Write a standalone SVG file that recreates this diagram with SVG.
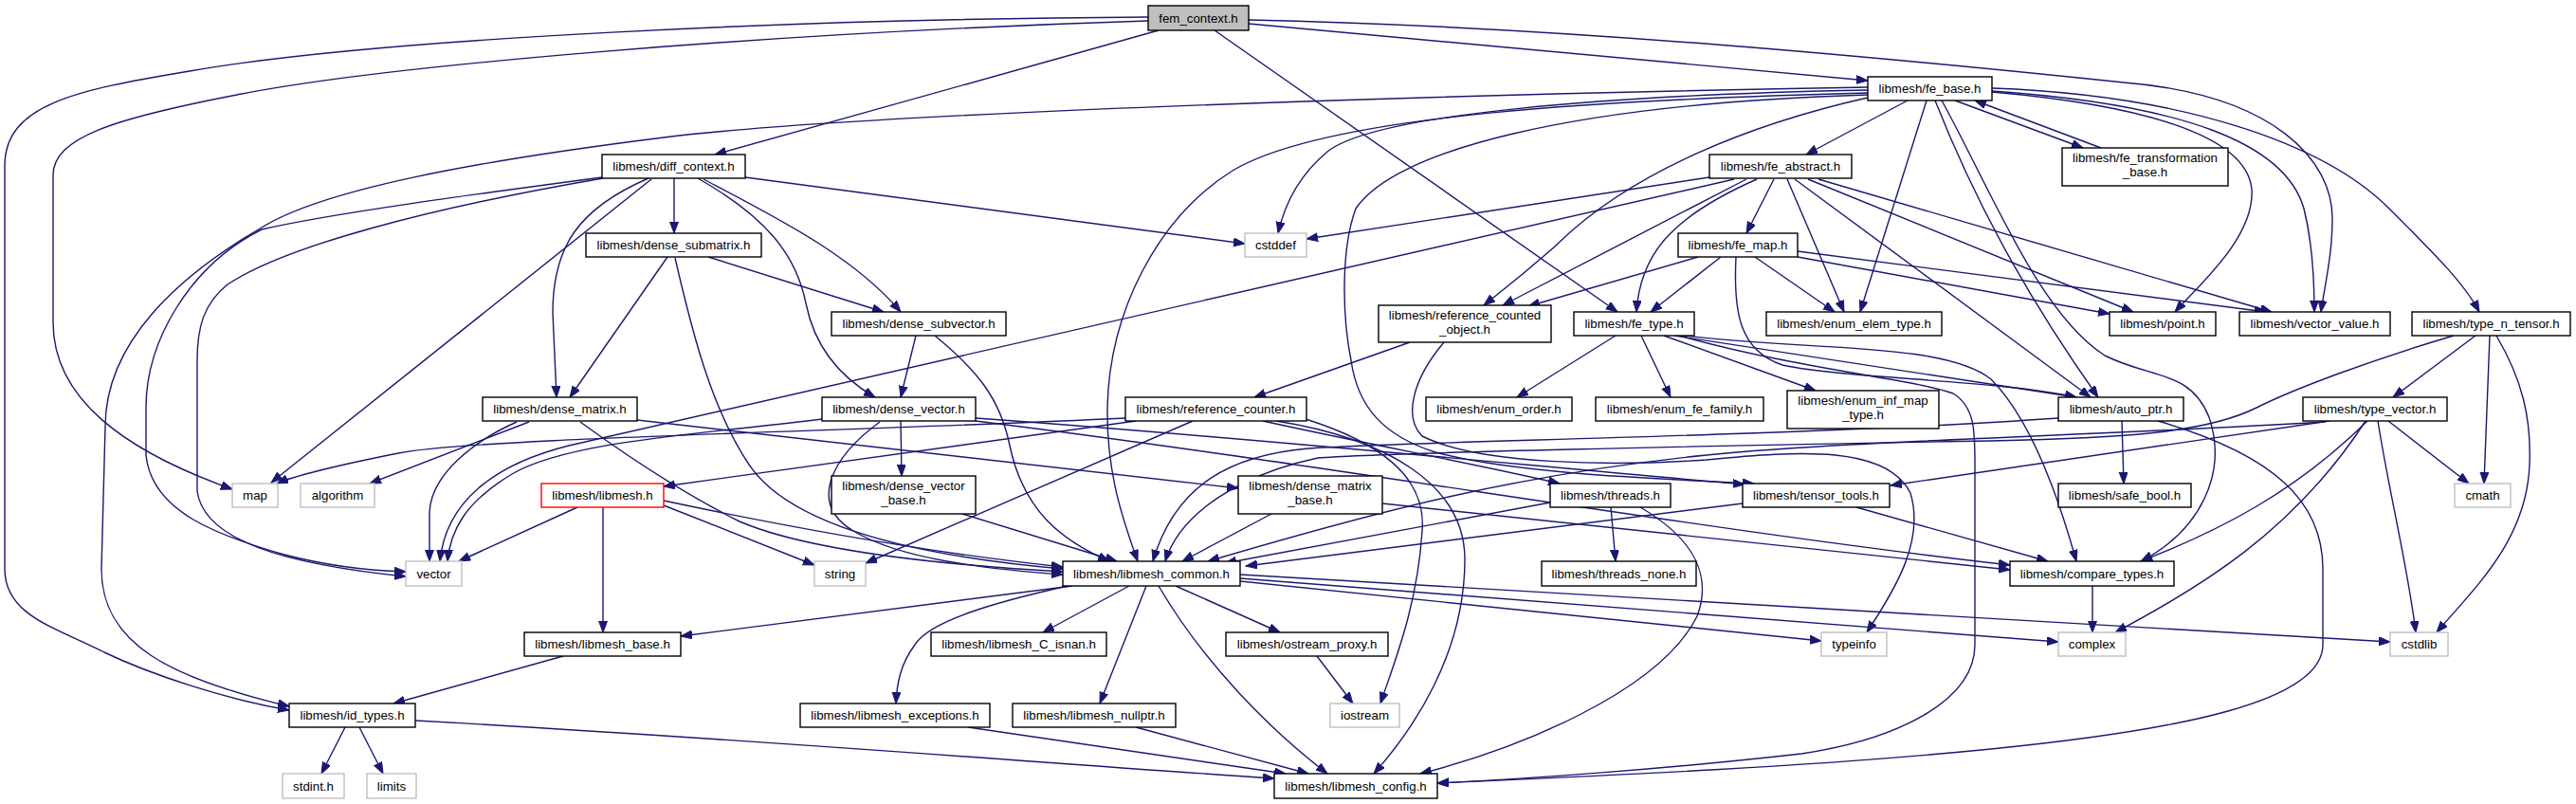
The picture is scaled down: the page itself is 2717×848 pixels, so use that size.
<svg xmlns="http://www.w3.org/2000/svg" width="2717" height="848" viewBox="0 0 2717 848">
<defs>
<style>
.e{fill:none;stroke:#191970;stroke-width:1.4;marker-end:url(#arr)}
.n rect{fill:#fff;stroke:#000;stroke-width:1.4}
.g rect{fill:#fff;stroke:#bfbfbf;stroke-width:1.4}
.r rect{fill:#fff;stroke:#ff0000;stroke-width:1.4}
.root rect{fill:#bfbfbf;stroke:#000;stroke-width:1.4}
text{font-family:"Liberation Sans",Arial,sans-serif;font-size:13.3px;fill:#000;text-anchor:middle}
</style>
<marker id="arr" markerUnits="userSpaceOnUse" markerWidth="13" markerHeight="10" refX="12" refY="4.5" orient="auto">
<path d="M0,0 L12,4.5 L0,9 z" fill="#191970" stroke="#191970" stroke-width="1"/>
</marker>
</defs>
<rect width="2717" height="848" fill="#fff"/>
<g id="edges">
<path class="e" d="M1211,18 C850,20 400,40 200,75 C80,95 5,110 5,175 L5,600 C5,650 60,662 110,688 C160,712 240,738 305,749"/>
<path class="e" d="M1211,22 C800,35 400,70 250,100 C120,125 56,145 56,185 L56,340 C56,420 130,475 245,516"/>
<path class="e" d="M1222,32 L754,163"/>
<path class="e" d="M1317,25 L1970,85"/>
<path class="e" d="M1281,32 L1706,329"/>
<path class="e" d="M1317,21 C1650,28 2000,62 2240,87 C2400,100 2460,170 2460,230 C2460,270 2452,300 2448,329"/>
<path class="e" d="M635,187 C500,205 350,225 276,242 C200,280 154,360 154,430 L154,480 C160,540 230,565 300,585 C350,598 390,602 428,603"/>
<path class="e" d="M636,188 C450,220 300,260 240,300 C215,320 208,345 208,380 L208,518 C215,570 300,595 428,608"/>
<path class="e" d="M687,189 L286,509"/>
<path class="e" d="M684,188 C610,220 583,260 583,330 L587,419"/>
<path class="e" d="M711,188 L711,246"/>
<path class="e" d="M742,189 C820,230 900,270 950,329"/>
<path class="e" d="M736,188 C810,230 840,270 850,320 C860,370 890,400 923,419"/>
<path class="e" d="M786,187 L1313,257"/>
<path class="e" d="M1970,92 C1500,100 900,120 700,145 C500,170 340,200 276,240 C190,290 111,360 111,450 L107,600 C107,680 180,715 305,745"/>
<path class="e" d="M1970,98 C1700,105 1400,120 1300,180 C1220,230 1170,330 1168,430 C1167,500 1185,550 1200,592"/>
<path class="e" d="M1970,95 C1700,100 1450,120 1400,160 C1370,185 1355,215 1348,246"/>
<path class="e" d="M1970,103 C1850,130 1720,180 1640,260 C1600,295 1580,310 1565,322"/>
<path class="e" d="M1970,100 C1650,110 1470,160 1430,220 C1415,260 1415,330 1425,380 C1432,430 1460,460 1514,477 C1600,500 1750,505 1850,510"/>
<path class="e" d="M2012,106 L1905,163"/>
<path class="e" d="M2032,106 L1962,329"/>
<path class="e" d="M2041,106 C2090,230 2150,330 2213,419"/>
<path class="e" d="M2048,106 C2100,200 2150,330 2220,375 C2270,400 2310,390 2330,440 C2350,500 2320,560 2258,592"/>
<path class="e" d="M2062,106 L2197,156"/>
<path class="e" d="M2216,156 L2083,106"/>
<path class="e" d="M2101,97 C2250,110 2370,140 2375,200 C2378,250 2320,300 2294,329"/>
<path class="e" d="M2101,96 C2300,110 2410,150 2430,220 C2440,260 2441,300 2441,329"/>
<path class="e" d="M2101,93 C2300,100 2450,150 2520,220 C2570,270 2600,300 2615,329"/>
<path class="e" d="M1803,187 L1378,252"/>
<path class="e" d="M1829,189 L600,470 C520,490 470,530 464,592"/>
<path class="e" d="M1842,189 L1585,322"/>
<path class="e" d="M1853,189 C1760,230 1730,270 1726,329"/>
<path class="e" d="M1871,189 L1842,246"/>
<path class="e" d="M1885,189 L1945,329"/>
<path class="e" d="M1893,189 L2205,419"/>
<path class="e" d="M1907,189 L2250,329"/>
<path class="e" d="M1918,189 L2396,329"/>
<path class="e" d="M1791,271 L1612,323"/>
<path class="e" d="M1815,271 L1741,329"/>
<path class="e" d="M1851,271 L1935,329"/>
<path class="e" d="M1896,271 L2225,331"/>
<path class="e" d="M1896,265 L2390,329"/>
<path class="e" d="M1831,271 C1828,330 1835,370 1880,385 C1950,400 2100,400 2190,419"/>
<path class="e" d="M1704,354 L1600,419"/>
<path class="e" d="M1731,354 L1762,419"/>
<path class="e" d="M1755,354 L1915,412"/>
<path class="e" d="M1766,354 L2190,419"/>
<path class="e" d="M1777,354 C1900,370 2050,360 2100,400 C2140,440 2170,520 2190,592"/>
<path class="e" d="M1771,354 C1900,390 2020,400 2060,415 C2085,430 2083,460 2083,500 L2083,680 C2083,740 2000,780 1900,795 C1750,812 1600,822 1516,826"/>
<path class="e" d="M1487,361 L1323,419"/>
<path class="e" d="M1523,361 C1490,400 1480,440 1500,460 C1560,490 1700,492 1800,485 C1900,475 1990,470 2015,520 C2030,570 2000,620 1969,667"/>
<path class="e" d="M1187,441 C900,455 500,462 420,478 C360,490 310,502 292,510"/>
<path class="e" d="M1198,444 L700,513"/>
<path class="e" d="M1258,444 L913,594"/>
<path class="e" d="M1332,444 C1450,470 1560,490 1645,510"/>
<path class="e" d="M1377,442 C1450,465 1505,500 1500,560 C1495,640 1470,700 1456,742"/>
<path class="e" d="M1346,444 C1460,462 1545,510 1545,590 C1545,690 1490,770 1449,816"/>
<path class="e" d="M609,535 L484,592"/>
<path class="e" d="M636,535 L636,667"/>
<path class="e" d="M700,533 L859,596"/>
<path class="e" d="M700,528 C850,560 1000,585 1121,598"/>
<path class="e" d="M1015,542 L1178,592"/>
<path class="e" d="M1341,542 L1247,592"/>
<path class="e" d="M1458,531 L2120,601"/>
<path class="e" d="M1635,530 L1292,594"/>
<path class="e" d="M1699,535 L1704,592"/>
<path class="e" d="M1730,535 C1790,570 1805,610 1790,650 C1750,730 1600,790 1498,816"/>
<path class="e" d="M1838,531 L1314,597"/>
<path class="e" d="M1958,535 L2160,592"/>
<path class="e" d="M1131,618 L718,671"/>
<path class="e" d="M1126,618 C1050,635 980,655 965,680 C950,700 946,720 945,742"/>
<path class="e" d="M1191,618 L1100,667"/>
<path class="e" d="M1209,618 L1160,742"/>
<path class="e" d="M1240,618 L1350,667"/>
<path class="e" d="M1222,618 C1270,700 1340,770 1400,816"/>
<path class="e" d="M1308,613 L1921,676"/>
<path class="e" d="M1308,610 L2171,677"/>
<path class="e" d="M1308,606 L2521,677"/>
<path class="e" d="M594,692 L415,742"/>
<path class="e" d="M364,767 L339,816"/>
<path class="e" d="M379,767 L404,816"/>
<path class="e" d="M438,760 C800,780 1100,805 1344,821"/>
<path class="e" d="M1021,767 L1356,816"/>
<path class="e" d="M1198,767 L1380,816"/>
<path class="e" d="M1389,692 L1427,742"/>
<path class="e" d="M2207,618 L2207,667"/>
<path class="e" d="M2238,444 L2240,510"/>
<path class="e" d="M2276,444 C2400,480 2450,530 2450,600 L2450,680 C2450,740 2300,770 2100,790 C1900,810 1650,820 1516,826"/>
<path class="e" d="M2171,441 C1900,460 1500,465 1380,473 C1300,480 1240,510 1216,592"/>
<path class="e" d="M2457,444 L1994,512"/>
<path class="e" d="M2452,445 C2200,460 1950,465 1800,480 C1600,500 1450,540 1274,592"/>
<path class="e" d="M2497,444 C2420,520 2340,560 2258,592"/>
<path class="e" d="M2495,444 C2420,560 2320,620 2231,667"/>
<path class="e" d="M2519,444 L2604,510"/>
<path class="e" d="M2508,444 C2520,520 2540,600 2548,667"/>
<path class="e" d="M2611,354 L2524,419"/>
<path class="e" d="M2626,354 L2620,510"/>
<path class="e" d="M2633,354 C2660,400 2670,440 2668,490 C2665,570 2610,620 2570,667"/>
<path class="e" d="M2588,354 C2500,380 2420,410 2380,430 C2330,455 2250,462 2100,465 C1800,470 1450,478 1390,483 C1310,500 1245,540 1229,592"/>
<path class="e" d="M545,445 C500,465 455,500 453,540 L453,592"/>
<path class="e" d="M558,445 L390,510"/>
<path class="e" d="M612,445 C660,480 720,520 780,550 C850,580 980,595 1121,603"/>
<path class="e" d="M672,443 L1306,515"/>
<path class="e" d="M867,442 C740,458 600,465 540,500 C490,530 475,560 472,592"/>
<path class="e" d="M950,444 L951,502"/>
<path class="e" d="M928,445 C880,480 850,530 900,560 C950,590 1040,600 1121,606"/>
<path class="e" d="M1029,441 C1300,460 1600,490 1840,511"/>
<path class="e" d="M1029,444 C1400,490 1800,560 2120,596"/>
<path class="e" d="M704,271 L601,419"/>
<path class="e" d="M747,271 L932,329"/>
<path class="e" d="M712,272 C730,350 750,430 790,490 C830,550 950,585 1121,600"/>
<path class="e" d="M966,354 L950,419"/>
<path class="e" d="M986,354 C1030,390 1055,420 1065,470 C1080,540 1120,570 1170,592"/>
</g>
<g id="fem_context" class="root"><rect x="1211" y="6" width="106" height="26"/><text x="1264" y="23.5">fem_context.h</text></g>
<g id="fe_base" class="n"><rect x="1970" y="81" width="131" height="25"/><text x="2035.5" y="98">libmesh/fe_base.h</text></g>
<g id="diff_context" class="n"><rect x="635" y="163" width="151" height="25"/><text x="710.5" y="180">libmesh/diff_context.h</text></g>
<g id="fe_abstract" class="n"><rect x="1803" y="163" width="150" height="25"/><text x="1878" y="180">libmesh/fe_abstract.h</text></g>
<g id="fe_transformation_base" class="n"><rect x="2175" y="156" width="175" height="40"/><text x="2262.5" y="171">libmesh/fe_transformation</text><text x="2262.5" y="186">_base.h</text></g>
<g id="dense_submatrix" class="n"><rect x="618" y="246" width="185" height="25"/><text x="710.5" y="263">libmesh/dense_submatrix.h</text></g>
<g id="cstddef" class="g"><rect x="1313" y="246" width="65" height="25"/><text x="1345.5" y="263">cstddef</text></g>
<g id="fe_map" class="n"><rect x="1770" y="246" width="126" height="25"/><text x="1833" y="263">libmesh/fe_map.h</text></g>
<g id="dense_subvector" class="n"><rect x="877" y="329" width="184" height="25"/><text x="969" y="346">libmesh/dense_subvector.h</text></g>
<g id="reference_counted_object" class="n"><rect x="1454" y="322" width="182" height="39"/><text x="1545" y="337">libmesh/reference_counted</text><text x="1545" y="352">_object.h</text></g>
<g id="fe_type" class="n"><rect x="1660" y="329" width="127" height="25"/><text x="1723.5" y="346">libmesh/fe_type.h</text></g>
<g id="enum_elem_type" class="n"><rect x="1863" y="329" width="185" height="25"/><text x="1955.5" y="346">libmesh/enum_elem_type.h</text></g>
<g id="point" class="n"><rect x="2225" y="329" width="112" height="25"/><text x="2281" y="346">libmesh/point.h</text></g>
<g id="vector_value" class="n"><rect x="2362" y="329" width="159" height="25"/><text x="2441.5" y="346">libmesh/vector_value.h</text></g>
<g id="type_n_tensor" class="n"><rect x="2544" y="329" width="167" height="25"/><text x="2627.5" y="346">libmesh/type_n_tensor.h</text></g>
<g id="dense_matrix" class="n"><rect x="509" y="419" width="163" height="25"/><text x="590.5" y="436">libmesh/dense_matrix.h</text></g>
<g id="dense_vector" class="n"><rect x="867" y="419" width="162" height="25"/><text x="948" y="436">libmesh/dense_vector.h</text></g>
<g id="reference_counter" class="n"><rect x="1187" y="419" width="191" height="25"/><text x="1282.5" y="436">libmesh/reference_counter.h</text></g>
<g id="enum_order" class="n"><rect x="1504" y="419" width="154" height="25"/><text x="1581" y="436">libmesh/enum_order.h</text></g>
<g id="enum_fe_family" class="n"><rect x="1683" y="419" width="177" height="25"/><text x="1771.5" y="436">libmesh/enum_fe_family.h</text></g>
<g id="enum_inf_map_type" class="n"><rect x="1885" y="412" width="160" height="40"/><text x="1965" y="427">libmesh/enum_inf_map</text><text x="1965" y="442">_type.h</text></g>
<g id="auto_ptr" class="n"><rect x="2171" y="419" width="132" height="25"/><text x="2237" y="436">libmesh/auto_ptr.h</text></g>
<g id="type_vector" class="n"><rect x="2429" y="419" width="152" height="25"/><text x="2505" y="436">libmesh/type_vector.h</text></g>
<g id="map" class="g"><rect x="245" y="510" width="48" height="25"/><text x="269" y="527">map</text></g>
<g id="algorithm" class="g"><rect x="317" y="510" width="78" height="25"/><text x="356" y="527">algorithm</text></g>
<g id="libmesh" class="r"><rect x="571" y="510" width="129" height="25"/><text x="635.5" y="527">libmesh/libmesh.h</text></g>
<g id="dense_vector_base" class="n"><rect x="877" y="502" width="152" height="40"/><text x="953" y="517">libmesh/dense_vector</text><text x="953" y="532">_base.h</text></g>
<g id="dense_matrix_base" class="n"><rect x="1306" y="502" width="152" height="40"/><text x="1382" y="517">libmesh/dense_matrix</text><text x="1382" y="532">_base.h</text></g>
<g id="threads" class="n"><rect x="1635" y="510" width="127" height="25"/><text x="1698.5" y="527">libmesh/threads.h</text></g>
<g id="tensor_tools" class="n"><rect x="1838" y="510" width="155" height="25"/><text x="1915.5" y="527">libmesh/tensor_tools.h</text></g>
<g id="safe_bool" class="n"><rect x="2171" y="510" width="140" height="25"/><text x="2241" y="527">libmesh/safe_bool.h</text></g>
<g id="cmath" class="g"><rect x="2589" y="510" width="59" height="25"/><text x="2618.5" y="527">cmath</text></g>
<g id="vector" class="g"><rect x="428" y="592" width="59" height="26"/><text x="457.5" y="609.5">vector</text></g>
<g id="string" class="g"><rect x="859" y="592" width="54" height="26"/><text x="886" y="609.5">string</text></g>
<g id="libmesh_common" class="n"><rect x="1121" y="592" width="187" height="26"/><text x="1214.5" y="609.5">libmesh/libmesh_common.h</text></g>
<g id="threads_none" class="n"><rect x="1626" y="592" width="163" height="26"/><text x="1707.5" y="609.5">libmesh/threads_none.h</text></g>
<g id="compare_types" class="n"><rect x="2120" y="592" width="173" height="26"/><text x="2206.5" y="609.5">libmesh/compare_types.h</text></g>
<g id="libmesh_base" class="n"><rect x="553" y="667" width="165" height="25"/><text x="635.5" y="684">libmesh/libmesh_base.h</text></g>
<g id="libmesh_C_isnan" class="n"><rect x="982" y="667" width="185" height="25"/><text x="1074.5" y="684">libmesh/libmesh_C_isnan.h</text></g>
<g id="ostream_proxy" class="n"><rect x="1293" y="667" width="171" height="25"/><text x="1378.5" y="684">libmesh/ostream_proxy.h</text></g>
<g id="typeinfo" class="g"><rect x="1921" y="667" width="69" height="25"/><text x="1955.5" y="684">typeinfo</text></g>
<g id="complex" class="g"><rect x="2171" y="667" width="71" height="25"/><text x="2206.5" y="684">complex</text></g>
<g id="cstdlib" class="g"><rect x="2521" y="667" width="61" height="25"/><text x="2551.5" y="684">cstdlib</text></g>
<g id="id_types" class="n"><rect x="305" y="742" width="133" height="25"/><text x="371.5" y="759">libmesh/id_types.h</text></g>
<g id="libmesh_exceptions" class="n"><rect x="844" y="742" width="200" height="25"/><text x="944" y="759">libmesh/libmesh_exceptions.h</text></g>
<g id="libmesh_nullptr" class="n"><rect x="1068" y="742" width="172" height="25"/><text x="1154" y="759">libmesh/libmesh_nullptr.h</text></g>
<g id="iostream" class="g"><rect x="1403" y="742" width="73" height="25"/><text x="1439.5" y="759">iostream</text></g>
<g id="stdint" class="g"><rect x="298" y="816" width="65" height="26"/><text x="330.5" y="833.5">stdint.h</text></g>
<g id="limits" class="g"><rect x="387" y="816" width="52" height="26"/><text x="413" y="833.5">limits</text></g>
<g id="libmesh_config" class="n"><rect x="1344" y="816" width="172" height="26"/><text x="1430" y="833.5">libmesh/libmesh_config.h</text></g>
</svg>
